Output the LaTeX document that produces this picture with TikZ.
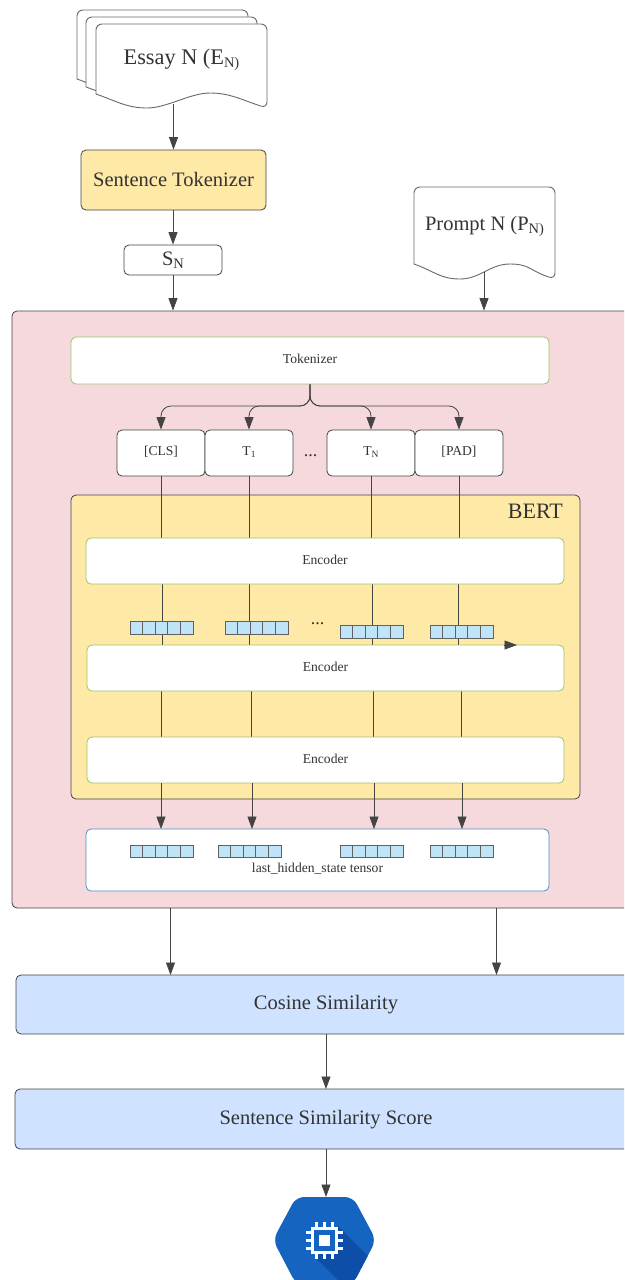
\documentclass[tikz,border=0pt]{standalone}
\usepackage{fontspec}
\setmainfont{Liberation Serif}
\usetikzlibrary{arrows.meta}
\definecolor{ink}{HTML}{333333}
\definecolor{edge}{HTML}{444444}
\definecolor{pinkbg}{HTML}{F5D9DC}
\definecolor{yellowbg}{HTML}{FEE9A6}
\definecolor{bluebg}{HTML}{CFE2FF}
\definecolor{cellblue}{HTML}{BFE3F7}
\definecolor{greenedge}{HTML}{9CC46A}
\definecolor{blueedge}{HTML}{4A90C8}
\definecolor{hexblue}{HTML}{1565C0}
\definecolor{hexdark}{HTML}{0D4FA8}
\newcommand{\bigtxt}{\fontsize{20.5}{24}\selectfont}
\newcommand{\smalltxt}{\fontsize{13.6}{16}\selectfont}
\newcommand{\lowbig}[1]{\raisebox{-.3ex}{\fontsize{14.5}{16}\selectfont #1}}
\newcommand{\lowsmall}[1]{\raisebox{-.3ex}{\fontsize{9.5}{11}\selectfont #1}}
\newcommand{\boxnode}[6][]{%
  \pgfmathsetmacro{\bxw}{#5-#3}\pgfmathsetmacro{\bxh}{#6-#4}%
  \pgfmathsetmacro{\bxc}{(#5+#3)/2}\pgfmathsetmacro{\bxm}{(#6+#4)/2}%
  \node[basebox,minimum width=\bxw pt,minimum height=\bxh pt,#1] (#2) at (\bxc,\bxm) {};}
% x0 ytop x1 yleft xtrough xcrest yright
\newcommand{\docshape}[7]{%
  \draw[docline] [rounded corners=6pt] (#1,#4) -- (#1,#2) -- (#3,#2) -- (#3,#7) [sharp corners]
    .. controls (#3-25,#7-8) and (#6+20,#7-15) .. (#6,#7-15)
    .. controls (#6-20,#7-15) and (#5+20,#7) .. (#5,#7)
    .. controls (#5-20,#7) and (#1+20,#4+7) .. (#1,#4) -- cycle;}
\newcommand{\strip}[3]{% name x y
  \node[stripcell,minimum width=62.5pt,minimum height=12.5pt,anchor=north west] (#1) at (#2,#3) {};
  \foreach \k in {1,2,3,4}{\draw[stripline] (#2+12.5*\k,#3) -- (#2+12.5*\k,#3+12.5);}}
\tikzset{
  basebox/.style={draw=edge,line width=.8pt,rounded corners=5pt,inner sep=0pt,fill=white},
  docline/.style={draw=edge!80,line width=.9pt,fill=white},
  wire/.style={draw=edge,line width=.8pt},
  arr/.style={wire,-{Triangle[length=12.5pt,width=9pt]}},
  lab/.style={text=ink,inner sep=0pt,align=center},
  stripcell/.style={draw=edge!85,line width=1pt,fill=cellblue,inner sep=0pt},
  stripline/.style={draw=edge!85,line width=.8pt},
  greenbox/.style={draw=greenedge},
}
\begin{document}
\begin{tikzpicture}[x=1pt,y=-1pt]
\clip (0,0) rectangle (624,1280);
\fill[white] (0,0) rectangle (624,1280);
% essay stack
\docshape{77}{10}{248}{79}{129}{188}{94}
\docshape{86}{17}{257}{87}{138}{198}{101}
\docshape{96}{24}{267}{94}{147}{210}{108}
\node[lab] (essay) at (181.5,60) {\fontsize{22.3}{26}\selectfont Essay N (E\lowbig{N)}};
\coordinate (essaybot) at (173.5,104);
% prompt
\docshape{414}{187}{555}{264}{460}{510}{279}
\node[lab] (prompt) at (484.5,226.5) {\bigtxt Prompt N (P\lowbig{N)}};
\coordinate (promptbot) at (484,272);
% top boxes
\boxnode[fill=yellowbg]{senttok}{81}{150}{266}{210}
\node[lab] at (173.5,179) {\bigtxt Sentence Tokenizer};
\boxnode{sn}{124}{245}{222}{275}
\node[lab] at (sn) {\bigtxt S\lowbig{N}};
% main panel
\boxnode[fill=pinkbg]{panel}{12}{311}{640}{908}
\draw[arr] (essaybot) -- (essaybot |- senttok.north);
\draw[arr] (senttok.south -| sn.north) -- (sn.north);
\draw[arr] (sn.south) -- (sn.south |- panel.north);
\draw[arr] (promptbot) -- (promptbot |- panel.north);
% tokenizer
\boxnode[greenbox]{tokenizer}{71}{337}{549}{384}
\node[lab] at (310,359) {\smalltxt Tokenizer};
\boxnode{tcls}{117}{430}{205}{476}
\boxnode{tone}{205}{430}{293}{476}
\boxnode{tn}{327}{430}{415}{476}
\boxnode{tpad}{415}{430}{503}{476}
\node[lab] at (161,452) {\smalltxt [CLS]};
\node[lab] at (249,452) {\smalltxt T\lowsmall{1}};
\node[lab] at (371,452) {\smalltxt T\lowsmall{N}};
\node[lab] at (459,452) {\smalltxt [PAD]};
\node[lab] (dots1) at (310.5,456) {\fontsize{18}{20}\selectfont ...};
\coordinate (branch) at (310,406);
\foreach \t in {tcls,tone,tn,tpad}{
  \draw[arr,rounded corners=10pt] (tokenizer.south -| branch) -- (branch) -- (branch -| \t.north) -- (\t.north);
}
% BERT
\boxnode[fill=yellowbg]{bert}{71}{495}{580}{799}
\node[lab,anchor=east] (bertlab) at (563,511.5) {\fontsize{22}{26}\selectfont BERT};
% encoder connectors
\foreach \x in {161.5,249.5,371.5,459.5}{\draw[wire] (\x,476) -- (\x,538);}
\foreach \x in {162,249.5,372.5,458}{\draw[wire] (\x,584) -- (\x,645);}
\foreach \x in {161,251,373,461.5}{\draw[wire] (\x,691) -- (\x,737);}
% encoders
\boxnode[greenbox]{enca}{86}{538}{564}{584}
\boxnode[greenbox]{encb}{87}{645}{564}{691}
\boxnode[greenbox]{encc}{87}{737}{564}{783}
\coordinate (straystart) at (504,645);
\coordinate (strayend) at (517,645);
\draw[arr] (straystart) -- (strayend);
\node[lab] at (325,560) {\smalltxt Encoder};
\node[lab] at (325.5,667) {\smalltxt Encoder};
\node[lab] at (325.5,759) {\smalltxt Encoder};
\strip{sa}{130}{621}
\strip{sb}{225}{621}
\strip{sc}{340}{625}
\strip{sd}{430}{625}
\node[lab] (dots2) at (317.5,624) {\fontsize{18}{20}\selectfont ...};
% last hidden state
\boxnode[draw=blueedge]{last}{86}{829}{549}{891}
\foreach \x in {161,252,374,462}{\draw[arr] (\x,783) -- (\x,829);}
\strip{la}{130}{844.5}
\strip{lb}{218}{844.5}
\strip{lc}{340}{844.5}
\strip{ld}{430}{844.5}
\node[lab] at (317.5,869) {\smalltxt last\_hidden\_state tensor};
% similarity
\boxnode[fill=bluebg]{cosine}{16}{975}{640}{1034}
\boxnode[fill=bluebg]{score}{15}{1089}{640}{1149}
\node[lab] at (326,1004.5) {\bigtxt Cosine Similarity};
\node[lab] at (326,1120) {\bigtxt Sentence Similarity Score};
\draw[arr] (170.5,908) -- (170.5,975);
\draw[arr] (496.5,908) -- (496.5,975);
\coordinate (simtop) at (326,1089);
\coordinate (hextop) at (326,1197);
\draw[arr] (simtop |- cosine.south) -- (simtop);
\draw[arr] (simtop |- score.south) -- (hextop);
% processor hexagon
\begin{scope}
\path[clip,rounded corners=8pt] (296,1197) -- (353,1197) -- (376,1240) -- (353,1284) -- (296,1284) -- (273,1240) -- cycle;
\fill[hexblue] (265,1190) rectangle (385,1290);
\fill[hexdark] (338,1226) -- (385,1273) -- (385,1300) -- (358,1300) -- (316,1258) -- cycle;
\end{scope}
\foreach \d in {-8,0,8}{
  \fill[white] (306,1240.5+\d-1.5) rectangle (343,1240.5+\d+1.5);
  \fill[white] (324.5+\d-1.5,1222) rectangle (324.5+\d+1.5,1259);
}
\fill[white] (311,1227) rectangle (338,1254);
\fill[hexblue] (314,1230) rectangle (335,1251);
\fill[white] (319,1235) rectangle (330,1246);
\end{tikzpicture}
\end{document}
